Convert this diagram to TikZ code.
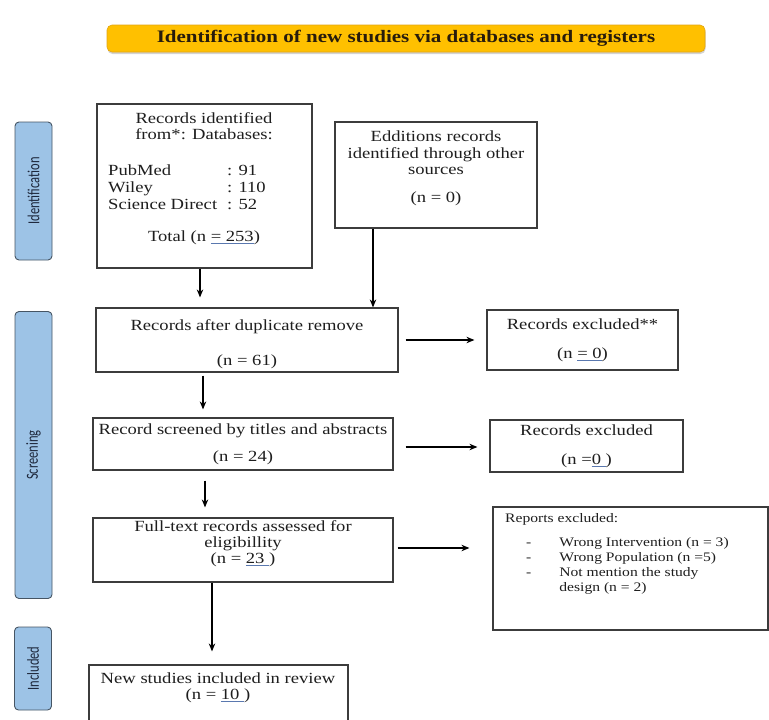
\documentclass[tikz,border=0pt]{standalone}
\usepackage{fontspec}
\setmainfont{Liberation Serif}[FakeStretch=1.2]
\newfontfamily\labfont{Carlito}
\usetikzlibrary{arrows.meta,shadows}
\definecolor{bannerfill}{RGB}{255,192,0}
\definecolor{bannerdraw}{RGB}{225,165,20}
\definecolor{bannertext}{RGB}{40,28,12}
\definecolor{labfill}{RGB}{157,195,230}
\definecolor{labdraw}{RGB}{70,85,100}
\definecolor{labtext}{RGB}{30,40,60}
\definecolor{ulblue}{RGB}{90,120,175}
\definecolor{boxdraw}{RGB}{60,60,60}
\definecolor{txt}{RGB}{30,30,30}
\newcommand\ulb[1]{\textcolor{ulblue}{\underline{\textcolor{txt}{#1}}}}
\newcommand\tallish[1]{\scalebox{1}[1.35]{#1}}
\begin{document}
\begin{tikzpicture}[x=1pt,y=-1pt,
  banner/.style={draw=bannerdraw,fill=bannerfill,rounded corners=5pt,line width=0.6pt,
    drop shadow={shadow xshift=0.5pt,shadow yshift=-2pt,opacity=0.35},
    minimum width=598pt,minimum height=27pt,inner sep=0pt,
    font=\fontsize{17.5}{19}\selectfont\bfseries,text=bannertext},
  sidelab/.style={draw=labdraw,fill=labfill,rounded corners=4pt,line width=0.9pt,
    rotate=90,minimum height=37pt,inner sep=0pt,
    font=\labfont\fontsize{12.5}{14}\selectfont,text=labtext},
  box/.style={draw=boxdraw,line width=1.2pt,fill=white,inner sep=0pt,align=center,
    font=\fontsize{15.5}{17}\selectfont,text=txt},
  plain/.style={inner sep=0pt,align=center,font=\fontsize{15.5}{17}\selectfont,text=txt},
  arr/.style={draw=black,line width=1.1pt,-{Stealth[length=8pt,width=6.5pt]}}
]
\useasboundingbox (0,0) rectangle (769,720);

% banner
\node[banner] (title) at (406,38.5) {Identification of new studies via databases and registers};

% side labels
\node[sidelab,minimum width=138pt] (lid) at (33.5,191) {\tallish{Identification}};
\node[sidelab,minimum width=287pt] (lscr) at (33.5,455) {\tallish{Screening}};
\node[sidelab,minimum width=83pt] (linc) at (33,668.5) {\tallish{Included}};

% identification boxes
\node[box,minimum width=215pt,minimum height=164pt] (rec) at (204.5,186) {};
\node[plain,font=\fontsize{15.5}{16}\selectfont] (rectitle) at (204,126) {Records identified\\from*: Databases:};
\node[plain,anchor=west,align=left,font=\fontsize{15.5}{17}\selectfont] (reclist) at (108,189)
  {\begin{tabular}{@{}l@{\hspace{10pt}}l@{}}PubMed & : 91\\ Wiley & : 110\\ Science Direct & : 52\end{tabular}};
\node[plain] (rectotal) at (204,238) {Total (n \ulb{= 253})};

\node[box,minimum width=202pt,minimum height=106pt] (add) at (436,175) {};
\node[plain,font=\fontsize{15.5}{16.5}\selectfont] (addtext) at (436,153) {Edditions records\\identified through other\\sources};
\node[plain] (addn) at (436,199) {(n = 0)};

% screening boxes
\node[box,minimum width=302pt,minimum height=64pt] (dup) at (247,340) {};
\node[plain] (duptext) at (247,344) {Records after duplicate remove\\[18pt](n = 61)};
\node[box,minimum width=191pt,minimum height=60pt] (ex1) at (582.5,340)
  {Records excluded**\\[12pt](n \ulb{= 0})};

\node[box,minimum width=300pt,minimum height=52pt] (scr) at (243,444)
  {Record screened by titles and abstracts\\[10pt](n = 24)};
\node[box,minimum width=193pt,minimum height=52pt] (ex2) at (586.5,446)
  {Records excluded\\[12pt](n =\ulb{0 })};

\node[box,minimum width=300pt,minimum height=64pt] (ft) at (243,550) {};
\node[plain,font=\fontsize{15.5}{16}\selectfont] (fttext) at (243,544) {Full-text records assessed for\\eligibillity\\(n = \ulb{23 })};

\node[box,minimum width=275pt,minimum height=123pt] (rep) at (630.5,568.5) {};
\node[plain,anchor=north west,font=\fontsize{13}{15}\selectfont] (reptitle) at (505,513) {Reports excluded:};
\node[plain,anchor=north west,align=left,font=\fontsize{13}{15}\selectfont] (replist) at (526,536)
  {\begin{tabular}{@{}l@{\hspace{28pt}}l@{}}- & Wrong Intervention (n = 3)\\ - & Wrong Population (n =5)\\ - & Not mention the study\\ & design (n = 2)\end{tabular}};

% included
\node[box,minimum width=259pt,minimum height=60pt] (inc) at (218.5,695) {};
\node[plain,font=\fontsize{15.5}{16}\selectfont] (inctext) at (218,688) {New studies included in review\\(n = \ulb{10 })};

% connectors
\draw[arr,shorten >=10pt] ([xshift=-4.5pt]rec.south) -- ([xshift=-4.5pt]rec.south |- dup.north);
\draw[arr] ([xshift=-63pt]add.south) -- ([xshift=-63pt]add.south |- dup.north);
\draw[arr,shorten <=7pt,shorten >=12pt] (dup.east) -- (ex1.west |- dup.east);
\draw[arr,shorten <=3pt,shorten >=8pt] ([xshift=-44pt]dup.south) -- ([xshift=-44pt]dup.south |- scr.north);
\draw[arr,shorten <=12pt,shorten >=12pt] ([yshift=-3pt]scr.east) -- ([yshift=-3pt]scr.east -| ex2.west);
\draw[arr,shorten <=10pt,shorten >=10pt] ([xshift=-38pt]scr.south) -- ([xshift=-38pt]scr.south |- ft.north);
\draw[arr,shorten <=4pt,shorten >=23pt] ([yshift=2pt]ft.east) -- ([yshift=2pt]ft.east -| rep.west);
\draw[arr,shorten >=13pt] ([xshift=-31pt]ft.south) -- ([xshift=-31pt]ft.south |- inc.north);
\end{tikzpicture}
\end{document}
